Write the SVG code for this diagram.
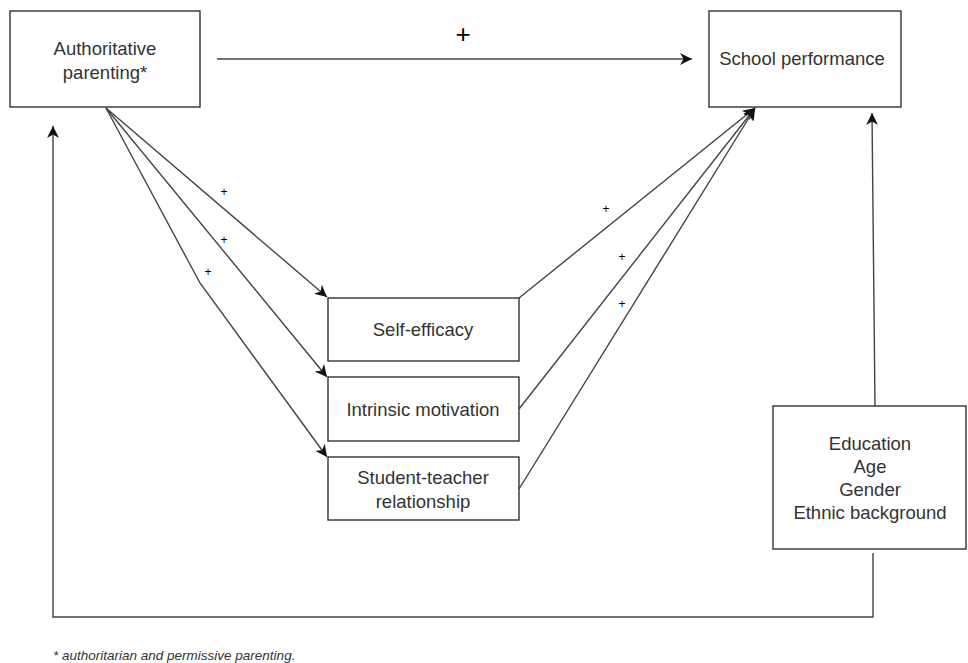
<svg xmlns="http://www.w3.org/2000/svg" width="968" height="663" viewBox="0 0 968 663">
<style>
.box{fill:#fff;stroke:#222;stroke-width:1.3}
.t{font-family:"Liberation Sans",Arial,sans-serif;font-size:18.5px;fill:#333;text-anchor:middle}
.c{fill:none;stroke:#444;stroke-width:1.4}
.p{font-family:"Liberation Sans",Arial,sans-serif;font-size:12px;fill:#000;text-anchor:middle}
</style>
<defs>
<marker id="ah" viewBox="0 0 10 10" refX="10" refY="5" markerWidth="12" markerHeight="12" markerUnits="userSpaceOnUse" orient="auto">
<path d="M0,0 L10,5 L0,10 L3,5 Z" fill="#111"/>
</marker>
</defs>
<rect width="968" height="663" fill="#fff"/>
<g id="connectors">
<path class="c" d="M217,59 L692,59" marker-end="url(#ah)"/>
<path class="c" d="M106,108 L327,297" marker-end="url(#ah)"/>
<path class="c" d="M106,108 L327,377" marker-end="url(#ah)"/>
<path class="c" d="M106,108 L200,283 L327,457" marker-end="url(#ah)"/>
<path class="c" d="M519,298 L755,108" marker-end="url(#ah)"/>
<path class="c" d="M519,409 L755,108" marker-end="url(#ah)"/>
<path class="c" d="M519,489 L755,108" marker-end="url(#ah)"/>
<path class="c" d="M875,406 L872,113" marker-end="url(#ah)"/>
<path class="c" d="M873,553 L873,617 L53,617 L53,126" marker-end="url(#ah)"/>
<text class="p" x="463" y="43" style="font-size:26px">+</text>
<text class="p" x="224" y="196">+</text>
<text class="p" x="224" y="244">+</text>
<text class="p" x="208" y="276">+</text>
<text class="p" x="606" y="213">+</text>
<text class="p" x="622" y="261">+</text>
<text class="p" x="622" y="308">+</text>
</g>
<g id="authoritative">
<rect class="box" x="10" y="11" width="190" height="96"/>
<text class="t" x="105" y="55">Authoritative</text>
<text class="t" x="105" y="79">parenting*</text>
</g>
<g id="school">
<rect class="box" x="709" y="11" width="192" height="96"/>
<text class="t" x="802" y="65">School performance</text>
</g>
<g id="selfefficacy">
<rect class="box" x="328" y="298" width="191" height="63"/>
<text class="t" x="423" y="336">Self-efficacy</text>
</g>
<g id="intrinsic">
<rect class="box" x="328" y="377" width="191" height="64"/>
<text class="t" x="423" y="416">Intrinsic motivation</text>
</g>
<g id="studentteacher">
<rect class="box" x="328" y="457" width="191" height="63"/>
<text class="t" x="423" y="484">Student-teacher</text>
<text class="t" x="423" y="508">relationship</text>
</g>
<g id="controls">
<rect class="box" x="773" y="406" width="193" height="143"/>
<text class="t" x="870" y="450">Education</text>
<text class="t" x="870" y="473">Age</text>
<text class="t" x="870" y="496">Gender</text>
<text class="t" x="870" y="519">Ethnic background</text>
</g>
<text x="53" y="660" style="font-family:'Liberation Sans',Arial,sans-serif;font-size:13.5px;font-style:italic;fill:#333">* authoritarian and permissive parenting.</text>
</svg>
